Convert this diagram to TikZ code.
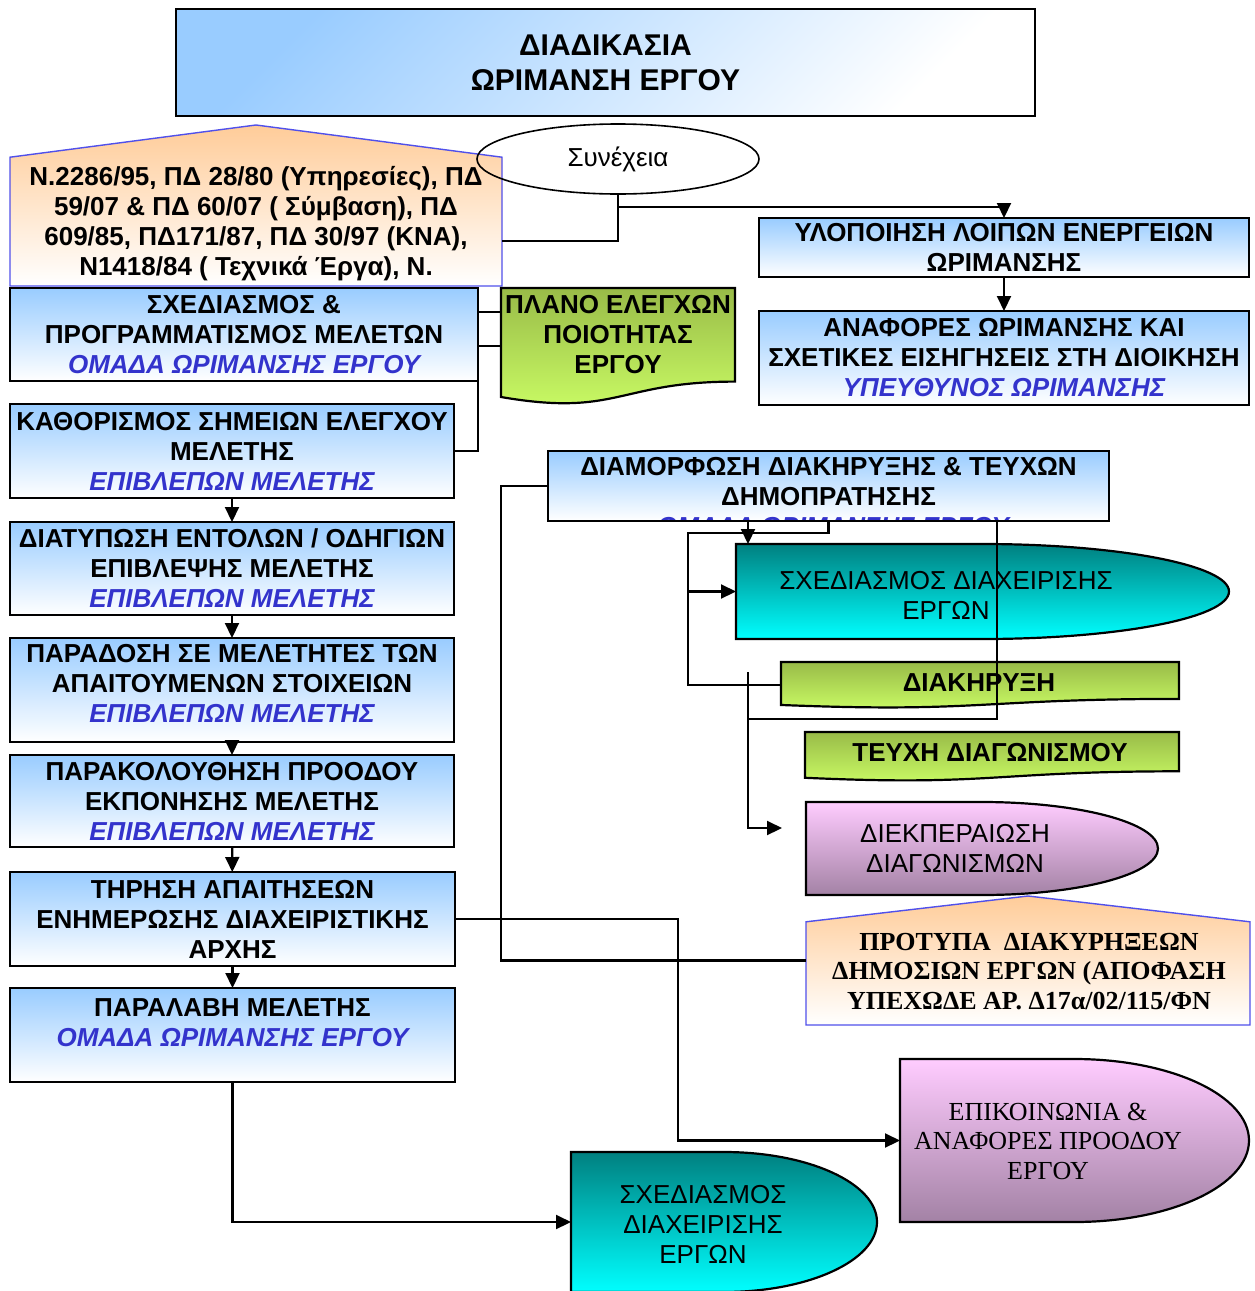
\documentclass[tikz,border=0pt]{standalone}
\usepackage{fontspec}
\setmainfont{Liberation Sans}
\newfontfamily\timesfont{Liberation Serif}
\usetikzlibrary{arrows.meta,calc,shapes.geometric}

\definecolor{boxblue}{RGB}{153,204,255}
\definecolor{rolecol}{RGB}{51,51,204}
\definecolor{lawtop}{RGB}{255,204,153}
\definecolor{lawedge}{RGB}{80,80,235}
\definecolor{greentop}{RGB}{153,187,72}
\definecolor{greenbot}{RGB}{204,255,102}
\definecolor{tealtop}{RGB}{0,128,128}
\definecolor{cyanbot}{RGB}{0,255,255}
\definecolor{pinktop}{RGB}{255,204,255}
\definecolor{mauvebot}{RGB}{163,130,165}

\newcommand\rolename[1]{{\color{rolecol}\itshape #1}}

% document shape (wavy bottom) drawn around an empty frame node
\newcommand\docshape[2]{%
  \path[#2] (#1.north west) -- (#1.north east)
    -- ($(#1.north east)!0.802!(#1.south east)$)
    .. controls ($(#1.north)!0.802!(#1.south)$) and ($(#1.north)!1.1075!(#1.south)$)
    .. ($(#1.north west)!0.934!(#1.south west)$) -- cycle;}
% delay shape: square left end, half-ellipse right end
\newcommand\delayshape[2]{%
  \path[#2] (#1.south west) -- (#1.north west) -- (#1.north)
    .. controls ($(#1.north)!0.5523!(#1.north east)$) and ($(#1.east)!0.5523!(#1.north east)$) .. (#1.east)
    .. controls ($(#1.east)!0.5523!(#1.south east)$) and ($(#1.south)!0.5523!(#1.south east)$) .. (#1.south)
    -- cycle;}
% pentagon with a pointed roof
\newcommand\houseshape[2]{%
  \path[#2] (#1.south west) -- ($(#1.north west)!0.2!(#1.south west)$) -- (#1.north)
    -- ($(#1.north east)!0.2!(#1.south east)$) -- (#1.south east) -- cycle;}

\tikzset{
  txtbold/.style={font=\fontsize{26}{30}\selectfont\bfseries, align=center, inner sep=0pt},
  txtplain/.style={font=\fontsize{26}{30}\selectfont, align=center, inner sep=0pt},
  txtserif/.style={font=\timesfont\fontsize{26}{29.5}\selectfont, align=center, inner sep=0pt},
  bluebox/.style={txtbold, draw=black, line width=2.4pt, top color=boxblue, bottom color=white, outer sep=0pt},
  shapeframe/.style={inner sep=0pt, outer sep=0pt},
  shapeline/.style={draw=black, line width=2.2pt},
  lawline/.style={draw=lawedge, line width=1.4pt, top color=lawtop, bottom color=white},
  greenfill/.style={shapeline, top color=greentop, bottom color=greenbot},
  tealfill/.style={shapeline, top color=tealtop, bottom color=cyanbot},
  pinkfill/.style={shapeline, top color=pinktop, bottom color=mauvebot},
  wire/.style={draw=black, line width=2.1pt},
  arr/.style={wire, -{Triangle[length=15pt,width=14pt]}},
}

\begin{document}
\begin{tikzpicture}[x=1pt,y=-1pt]
\clip (0,0) rectangle (1255,1291);
\fill[white] (0,0) rectangle (1255,1291);

% helper coordinates for connector bends
\coordinate (y207) at (0,207);
\coordinate (y241) at (0,241);
\coordinate (y312) at (0,312);
\coordinate (y533) at (0,533);
\coordinate (y672) at (0,672);
\coordinate (y719) at (0,719);
\coordinate (x501) at (501,0);
\coordinate (x678) at (678,0);
\coordinate (x688) at (688,0);
\coordinate (x748) at (748,0);
\coordinate (x997) at (997,0);
\coordinate (dpIn) at (782,828);

% title
\node[draw=black, line width=2.8pt, shading=axis, top color=boxblue, bottom color=white,
      shading angle=45, minimum width=859pt, minimum height=107pt, inner sep=0pt,
      align=center, font=\fontsize{30}{35}\selectfont\bfseries] (title) at (605.5,62.5)
      {ΔΙΑΔΙΚΑΣΙΑ\\ΩΡΙΜΑΝΣΗ ΕΡΓΟΥ};

% legislation
\node[shapeframe, minimum width=492pt, minimum height=161pt] (law) at (256,205.5) {};
\houseshape{law}{lawline}
\node[txtbold] (lawtxt) at (256,224) {N.2286/95, ΠΔ 28/80 (Υπηρεσίες), ΠΔ\\59/07 \& ΠΔ 60/07 ( Σύμβαση), ΠΔ\\609/85, ΠΔ171/87, ΠΔ 30/97 (ΚΝΑ),\\N1418/84 ( Τεχνικά Έργα), N.};

\node[ellipse, draw=black, line width=1.6pt, minimum width=282pt, minimum height=70pt, txtplain] (ell) at (618,159) {Συνέχεια};

% left column
\node[bluebox, minimum width=468pt, minimum height=93pt] (A) at (244,334.5)
  {ΣΧΕΔΙΑΣΜΟΣ \&\\ΠΡΟΓΡΑΜΜΑΤΙΣΜΟΣ ΜΕΛΕΤΩΝ\\\rolename{ΟΜΑΔΑ ΩΡΙΜΑΝΣΗΣ ΕΡΓΟΥ}};
\node[bluebox, minimum width=444pt, minimum height=94pt] (B) at (232,451)
  {ΚΑΘΟΡΙΣΜΟΣ ΣΗΜΕΙΩΝ ΕΛΕΓΧΟΥ\\ΜΕΛΕΤΗΣ\\\rolename{ΕΠΙΒΛΕΠΩΝ ΜΕΛΕΤΗΣ}};
\node[bluebox, minimum width=444pt, minimum height=93pt] (C) at (232,568.5)
  {ΔΙΑΤΥΠΩΣΗ ΕΝΤΟΛΩΝ / ΟΔΗΓΙΩΝ\\ΕΠΙΒΛΕΨΗΣ ΜΕΛΕΤΗΣ\\\rolename{ΕΠΙΒΛΕΠΩΝ ΜΕΛΕΤΗΣ}};
\node[bluebox, minimum width=444pt, minimum height=104pt] (D) at (232,690)
  {ΠΑΡΑΔΟΣΗ ΣΕ ΜΕΛΕΤΗΤΕΣ ΤΩΝ\\ΑΠΑΙΤΟΥΜΕΝΩΝ ΣΤΟΙΧΕΙΩΝ\\\rolename{ΕΠΙΒΛΕΠΩΝ ΜΕΛΕΤΗΣ}\rule[-14pt]{0pt}{0pt}};
\node[bluebox, minimum width=444pt, minimum height=92pt] (E) at (232,801)
  {ΠΑΡΑΚΟΛΟΥΘΗΣΗ ΠΡΟΟΔΟΥ\\ΕΚΠΟΝΗΣΗΣ ΜΕΛΕΤΗΣ\\\rolename{ΕΠΙΒΛΕΠΩΝ ΜΕΛΕΤΗΣ}};
\node[bluebox, minimum width=445pt, minimum height=94pt] (F) at (232.5,919)
  {ΤΗΡΗΣΗ ΑΠΑΙΤΗΣΕΩΝ\\ΕΝΗΜΕΡΩΣΗΣ ΔΙΑΧΕΙΡΙΣΤΙΚΗΣ\\ΑΡΧΗΣ};
\node[bluebox, minimum width=445pt, minimum height=94pt] (G) at (232.5,1035)
  {ΠΑΡΑΛΑΒΗ ΜΕΛΕΤΗΣ\\\rolename{ΟΜΑΔΑ ΩΡΙΜΑΝΣΗΣ ΕΡΓΟΥ}\rule[-25pt]{0pt}{0pt}};

% quality plan
\node[shapeframe, minimum width=234pt, minimum height=116.7pt] (plan) at (618,346.35) {};
\docshape{plan}{greenfill}
\node[txtbold] (plantxt) at (618,335) {ΠΛΑΝΟ ΕΛΕΓΧΩΝ\\ΠΟΙΟΤΗΤΑΣ\\ΕΡΓΟΥ};

% right column
\node[bluebox, minimum width=490pt, minimum height=59pt] (yl) at (1004,247.5)
  {ΥΛΟΠΟΙΗΣΗ ΛΟΙΠΩΝ ΕΝΕΡΓΕΙΩΝ\\ΩΡΙΜΑΝΣΗΣ};
\node[bluebox, minimum width=490pt, minimum height=94pt] (an) at (1004,358)
  {ΑΝΑΦΟΡΕΣ ΩΡΙΜΑΝΣΗΣ ΚΑΙ\\ΣΧΕΤΙΚΕΣ ΕΙΣΗΓΗΣΕΙΣ ΣΤΗ ΔΙΟΙΚΗΣΗ\\\rolename{ΥΠΕΥΘΥΝΟΣ ΩΡΙΜΑΝΣΗΣ}};

\node[bluebox, minimum width=561pt, minimum height=70pt] (dm) at (828.5,486)
  {ΔΙΑΜΟΡΦΩΣΗ ΔΙΑΚΗΡΥΞΗΣ \& ΤΕΥΧΩΝ\\ΔΗΜΟΠΡΑΤΗΣΗΣ\rule[-10pt]{0pt}{0pt}};
\begin{scope}
  \clip (dm.south west) rectangle (dm.north east);
  \node[txtbold] (dmrole) at (833,526.5) {\rolename{ΟΜΑΔΑ ΩΡΙΜΑΝΣΗΣ ΕΡΓΟΥ}};
\end{scope}
\draw[shapeline, line width=2.4pt] (dm.south west) -- (dm.south east);

\node[shapeframe, minimum width=493pt, minimum height=95pt] (cy1) at (982.5,591.5) {};
\delayshape{cy1}{tealfill}
\node[txtplain] (cy1txt) at (946,595) {ΣΧΕΔΙΑΣΜΟΣ ΔΙΑΧΕΙΡΙΣΗΣ\\ΕΡΓΩΝ};

\node[shapeframe, minimum width=398pt, minimum height=46pt] (dk) at (980,685) {};
\docshape{dk}{greenfill}
\node[txtbold] (dktxt) at (979,683) {ΔΙΑΚΗΡΥΞΗ};

\node[shapeframe, minimum width=374pt, minimum height=49pt] (tx) at (992,756.5) {};
\docshape{tx}{greenfill}
\node[txtbold] (txtxt) at (990,753) {ΤΕΥΧΗ ΔΙΑΓΩΝΙΣΜΟΥ};

\node[shapeframe, minimum width=352pt, minimum height=93pt] (dp) at (982,848.5) {};
\delayshape{dp}{pinkfill}
\node[txtplain] (dptxt) at (955,848.5) {ΔΙΕΚΠΕΡΑΙΩΣΗ\\ΔΙΑΓΩΝΙΣΜΩΝ};

\node[shapeframe, minimum width=444pt, minimum height=129pt] (pt) at (1028,960.5) {};
\houseshape{pt}{lawline}
\node[txtserif, font=\timesfont\bfseries\fontsize{26}{29.5}\selectfont] (pttxt) at (1029,971.5)
  {ΠΡΟΤΥΠΑ~ ΔΙΑΚΥΡΗΞΕΩΝ\\ΔΗΜΟΣΙΩΝ ΕΡΓΩΝ (ΑΠΟΦΑΣΗ\\ΥΠΕΧΩΔΕ ΑΡ. Δ17α/02/115/ΦΝ};

\node[shapeframe, minimum width=349pt, minimum height=163pt] (ep) at (1074.5,1140.5) {};
\delayshape{ep}{pinkfill}
\node[txtserif] (eptxt) at (1048,1141) {ΕΠΙΚΟΙΝΩΝΙΑ \&\\ΑΝΑΦΟΡΕΣ ΠΡΟΟΔΟΥ\\ΕΡΓΟΥ};

\node[shapeframe, minimum width=306pt, minimum height=140pt] (cy2) at (724,1222) {};
\delayshape{cy2}{tealfill}
\node[txtplain] (cy2txt) at (703,1224) {ΣΧΕΔΙΑΣΜΟΣ\\ΔΙΑΧΕΙΡΙΣΗΣ\\ΕΡΓΩΝ};

% connectors
\draw[wire] (law.east |- y241) -| (ell.south);
\draw[arr] (ell.south |- y207) -| (yl.north);
\draw[arr] (yl) -- (an);

\draw[wire] (A.east |- y312) -- (plan.west |- y312);
\draw[wire] (A.east |- plan.west) -- (plan.west);
\draw[wire] (A.south east) |- (B.east);
\draw[arr] (B) -- (C);
\draw[arr] (C) -- (D);
\draw[arr] (D) -- (E);
\draw[arr] (E) -- (F);
\draw[arr] (F) -- (G);

\draw[wire] (dm.west) -- (dm.west -| x501) |- (pt.west);
\draw[arr] (dm.south -| x748) -- (cy1.north -| x748);
\draw[wire] (dm.south) |- (x688 |- y533) |- (dk.west);
\draw[arr] (x688 |- cy1.west) -- (cy1.west);
\draw[wire] (dm.south -| x997) |- (x748 |- y719);
\draw[arr] (x748 |- y672) |- (dpIn);

\draw[arr] (F.east) -| (x678 |- ep.west) -- (ep.west);
\draw[arr] (G.south) |- (cy2.west);
\end{tikzpicture}
\end{document}
